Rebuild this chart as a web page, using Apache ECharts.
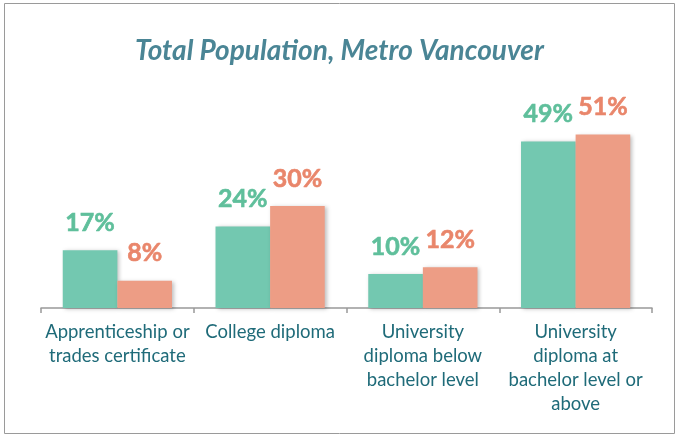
<!DOCTYPE html>
<html>
<head>
<meta charset="utf-8">
<script src="https://cdn.jsdelivr.net/npm/echarts@6/dist/echarts.min.js"></script>
<style>
  html, body { margin: 0; padding: 0; background: #fff; }
  #chart { width: 679px; height: 436px; }
</style>
</head>
<body>
<div id="chart"></div>
<script>
// data
const categories = [
  'Apprenticeship or\ntrades certificate',
  'College diploma',
  'University\ndiploma below\nbachelor level',
  'University\ndiploma at\nbachelor level or\nabove'
];
const seriesA = [17, 24, 10, 49];
const seriesB = [8, 30, 12, 51];

const chart = echarts.init(document.getElementById('chart'));

const barShadow = {
  shadowBlur: 4,
  shadowColor: 'rgba(0,0,0,0.25)',
  shadowOffsetX: 2,
  shadowOffsetY: 1
};

const valueLabel = (color) => ({
  show: true,
  position: 'top',
  distance: 15,
  formatter: '{c}%',
  fontFamily: 'Lato',
  fontWeight: 'bold',
  fontSize: 25,
  color: color,
  textBorderColor: color,
  textBorderWidth: 0.6
});

const option = {
  backgroundColor: '#fff',
  animation: false,
  title: {
    text: 'Total Population, Metro Vancouver',
    left: 'center',
    top: 32,
    textStyle: {
      fontFamily: 'Lato',
      fontStyle: 'italic',
      fontWeight: 'bold',
      fontSize: 28,
      color: '#4a8595'
    }
  },
  graphic: [{
    type: 'rect',
    shape: { x: 4.5, y: 3.5, width: 670, height: 430 },
    style: { fill: 'none', stroke: '#9a9a9a', lineWidth: 1 },
    silent: true
  }],
  grid: { left: 41, right: 27, top: 104, bottom: 128 },
  xAxis: {
    type: 'category',
    data: categories,
    axisLine: { lineStyle: { color: '#999', width: 1.5 } },
    axisTick: { show: true, length: 5, lineStyle: { color: '#999', width: 1.5 } },
    axisLabel: {
      interval: 0,
      margin: 12,
      fontFamily: 'Lato',
      fontSize: 18.5,
      lineHeight: 24,
      color: '#1f6b79'
    }
  },
  yAxis: {
    type: 'value',
    min: 0,
    max: 60,
    show: false
  },
  series: [
    {
      type: 'bar',
      data: seriesA,
      barGap: '0%',
      barCategoryGap: '28.5%',
      itemStyle: Object.assign({ color: '#73c8b0' }, barShadow),
      label: valueLabel('#5fbf9b')
    },
    {
      type: 'bar',
      data: seriesB,
      itemStyle: Object.assign({ color: '#ed9d85' }, barShadow),
      label: valueLabel('#e9866b')
    }
  ]
};

chart.setOption(option);
</script>
</body>
</html>
